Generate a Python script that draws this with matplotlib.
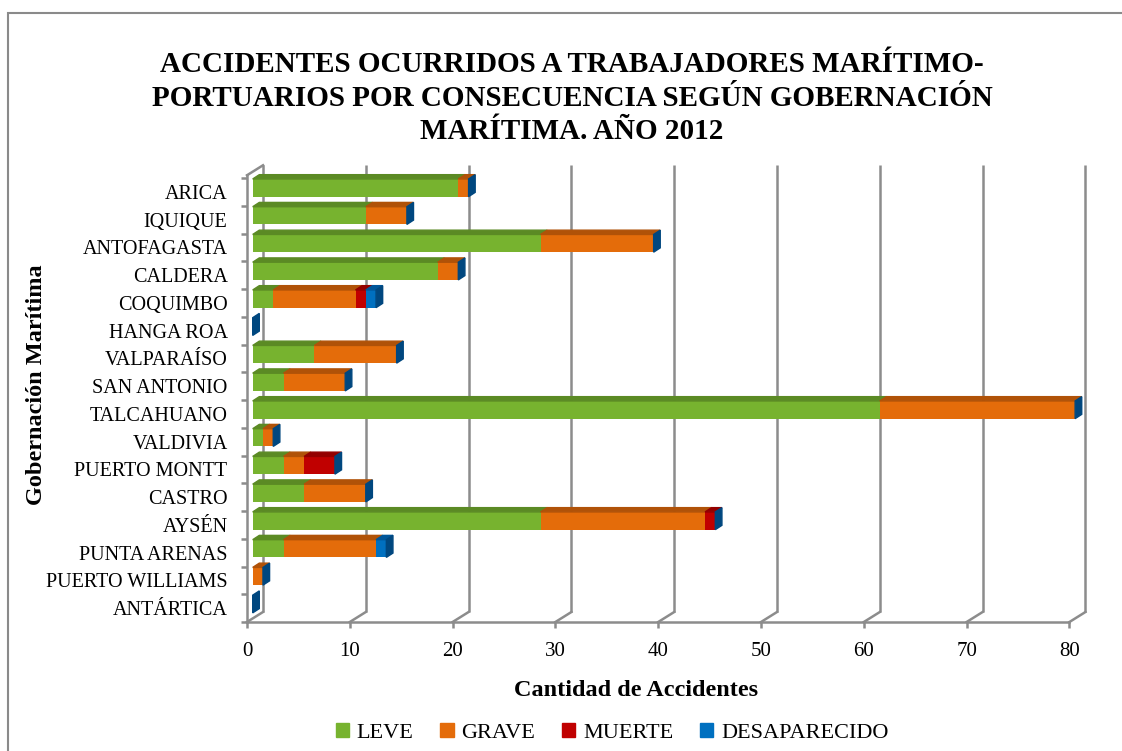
import matplotlib
matplotlib.use('Agg')
import matplotlib.pyplot as plt
from matplotlib.patches import Polygon, Rectangle, Patch

# data
gobernaciones = ['ARICA', 'IQUIQUE', 'ANTOFAGASTA', 'CALDERA', 'COQUIMBO',
                 'HANGA ROA', 'VALPARAÍSO', 'SAN ANTONIO', 'TALCAHUANO',
                 'VALDIVIA', 'PUERTO MONTT', 'CASTRO', 'AYSÉN',
                 'PUNTA ARENAS', 'PUERTO WILLIAMS', 'ANTÁRTICA']
leve = [20, 11, 28, 18, 2, 0, 6, 3, 61, 1, 3, 5, 28, 3, 0, 0]
grave = [1, 4, 11, 2, 8, 0, 8, 6, 19, 1, 2, 6, 16, 9, 1, 0]
muerte = [0, 0, 0, 0, 1, 0, 0, 0, 0, 0, 3, 0, 1, 0, 0, 0]
desaparecido = [0, 0, 0, 0, 1, 0, 0, 0, 0, 0, 0, 0, 0, 1, 0, 0]
series_names = ['LEVE', 'GRAVE', 'MUERTE', 'DESAPARECIDO']
x_ticks = [0, 10, 20, 30, 40, 50, 60, 70, 80]

title = ('ACCIDENTES OCURRIDOS A TRABAJADORES MARÍTIMO-\n'
         'PORTUARIOS POR CONSECUENCIA SEGÚN GOBERNACIÓN\n'
         'MARÍTIMA. AÑO 2012')

front_colors = ['#77b32f', '#e46c0a', '#c00000', '#0070c0']
top_colors = ['#5b8a24', '#b05208', '#930000', '#00569a']
cap_color = '#00477f'
grid_color = '#8c8c8c'
serif = 'Liberation Serif'

W, H = 1122, 751
fig = plt.figure(figsize=(W / 100, H / 100), dpi=100)

# outer frame
fig.patches.append(Rectangle((8 / W, -0.1), 1.2, 1 - 13 / H + 0.1,
                             transform=fig.transFigure, fill=False,
                             edgecolor='#8a8a8a', lw=1.5))

ax = fig.add_axes([247 / W, 129 / H, (1090 - 247) / W, (622 - 165) / H])
y_top = 15.97
ax.set_xlim(0, 82)
ax.set_ylim(-0.5, y_top)

# pixel sizes in data units
px_x = 1 / 10.28
px_y = 1 / 27.75
wall_dx, wall_dy = 16 * px_x, 10 * px_y
bar_x0, bar_yc = 5.7 * px_x, 4.1 * px_y
bar_h = 17.7 * px_y
dep_x, dep_y = 6.6 * px_x, 4.3 * px_y

# back wall grid + floor diagonals
for k in x_ticks:
    ax.plot([k + wall_dx, k + wall_dx], [-0.5 + wall_dy, y_top],
            color=grid_color, lw=1.8, zorder=1, clip_on=False,
            solid_capstyle='butt')
    ax.plot([k, k + wall_dx], [-0.5, -0.5 + wall_dy],
            color=grid_color, lw=1.8, zorder=1, clip_on=False)
ax.plot([0, wall_dx], [15.6, 15.6 + wall_dy], color=grid_color, lw=1.8,
        zorder=1, clip_on=False)

# stacked 3d-ish bars
series = [leve, grave, muerte, desaparecido]
n = len(gobernaciones)
for i in range(n):
    yc = (n - 1 - i) + bar_yc
    y0, y1 = yc - bar_h / 2, yc + bar_h / 2
    left = 0
    for s, vals in enumerate(series):
        v = vals[i]
        if v > 0:
            ax.barh(yc, v, left=bar_x0 + left, height=bar_h,
                    color=front_colors[s], zorder=3)
            ax.add_patch(Polygon([(bar_x0 + left, y1),
                                  (bar_x0 + left + v, y1),
                                  (bar_x0 + left + v + dep_x, y1 + dep_y),
                                  (bar_x0 + left + dep_x, y1 + dep_y)],
                                 closed=True, color=top_colors[s], zorder=3))
        left += v
    xe = bar_x0 + left
    ax.add_patch(Polygon([(xe, y0), (xe, y1), (xe + dep_x, y1 + dep_y),
                          (xe + dep_x, y0 + dep_y)],
                         closed=True, color=cap_color, zorder=4))

# axes styling
for side in ['top', 'right']:
    ax.spines[side].set_visible(False)
for side in ['left', 'bottom']:
    ax.spines[side].set_color(grid_color)
    ax.spines[side].set_linewidth(1.8)
ax.spines['bottom'].set_bounds(0, 80)
ax.spines['left'].set_bounds(-0.5, 15.6)

ax.set_xticks(x_ticks)
ax.set_xticklabels([str(t) for t in x_ticks], fontfamily=serif, fontsize=15)
ax.set_yticks(range(n))
ax.set_yticklabels(gobernaciones[::-1], fontfamily=serif, fontsize=14.5)
ax.set_yticks([k - 0.5 for k in range(n + 1)], minor=True)
ax.tick_params(axis='x', direction='out', length=4.3, width=1.8,
               color=grid_color, pad=10)
ax.tick_params(axis='y', which='major', length=0, pad=14)
ax.tick_params(axis='y', which='minor', direction='out', length=4.3,
               width=1.8, color=grid_color)
ax.patch.set_visible(False)

fig.text(572 / W, 1 - 98 / H, title, ha='center', va='center',
         fontfamily=serif, fontweight='bold', fontsize=21, linespacing=1.32)
fig.text(636 / W, 1 - 690 / H, 'Cantidad de Accidentes', ha='center',
         va='center', fontfamily=serif, fontweight='bold', fontsize=17.5)
fig.text(37 / W, 1 - 385 / H, 'Gobernación Marítima', ha='center',
         va='center', rotation=90, fontfamily=serif, fontweight='bold',
         fontsize=17.5)

handles = [Patch(color=c) for c in front_colors]
fig.legend(handles, series_names, loc='center', ncol=4, frameon=False,
           bbox_to_anchor=(612 / W, 1 - 733 / H), handlelength=0.6,
           handleheight=0.6, handletextpad=0.35, columnspacing=1.2,
           prop={'family': serif, 'size': 16})

fig.savefig('out.png', dpi=100)
